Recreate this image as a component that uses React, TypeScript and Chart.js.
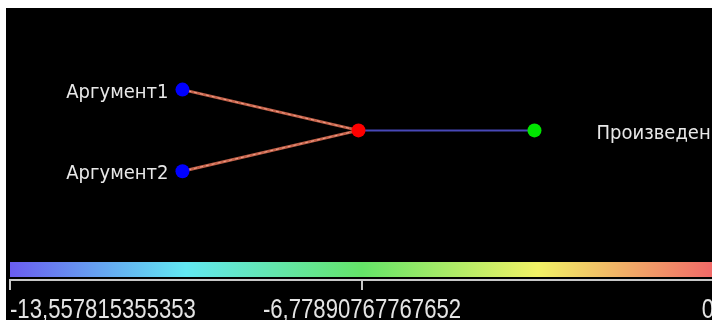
import React, { useEffect, useRef } from 'react';
import { Chart, registerables } from 'chart.js';

Chart.register(...registerables);

// ---- data ----
const nodeNames = ['Аргумент1', 'Аргумент2', '', 'Произведение'];
const nodeX = [24.5, 24.5, 49.5, 74.5];
const nodeY = [70, 40, 55, 55];
const nodeColors = ['#0000ff', '#0000ff', '#ff0000', '#00e600'];
const edgesFrom = [0, 1, 2];
const edgesTo = [2, 2, 3];
const edgeColors = ['#c4624a', '#c4624a', '#4848b8'];
const scaleMin = -13.557815355353;
const scaleMax = 0;
const tickValues = [-13.557815355353, -6.77890767767652, 0];
const colorStops = ['#6a5cf0', '#62e8f2', '#64e468', '#f2f266', '#f26868'];

const FONT = '"Liberation Sans Narrow", "DejaVu Sans Condensed", "Liberation Sans", sans-serif';
const TICK_FONT = '"Liberation Sans", Arial, sans-serif';

const colorbarPlugin = {
  id: 'colorbar',
  beforeDatasetsDraw(chart: any) {
    const { ctx, chartArea } = chart;
    const xs = chart.scales.x;
    const left = xs.getPixelForValue(scaleMin);
    const right = xs.getPixelForValue(scaleMax);
    const top = chartArea.bottom - 18;
    const g = ctx.createLinearGradient(left, 0, right, 0);
    colorStops.forEach((c, i) => g.addColorStop(i / (colorStops.length - 1), c));
    ctx.save();
    ctx.fillStyle = g;
    ctx.fillRect(left, top, right - left, 15);
    ctx.restore();
  },
};

const tickLabelPlugin = {
  id: 'tickLabels',
  afterDraw(chart: any) {
    const { ctx, chartArea } = chart;
    const xs = chart.scales.x;
    const sx = 0.82;
    ctx.save();
    ctx.font = `27px ${TICK_FONT}`;
    ctx.fillStyle = '#e4e4e4';
    ctx.textBaseline = 'alphabetic';
    const baseY = chartArea.bottom + 38;
    tickValues.forEach((v, i) => {
      const text = String(v).replace('.', ',');
      const px = xs.getPixelForValue(v);
      const w = ctx.measureText(text).width * sx;
      let x0 = px - w / 2;
      if (i === 0) x0 = px;
      if (i === tickValues.length - 1) x0 = px - w;
      ctx.save();
      ctx.translate(x0, baseY);
      ctx.scale(sx, 1);
      ctx.textAlign = 'left';
      ctx.fillText(text, 0, 0);
      ctx.restore();
    });
    ctx.restore();
  },
};

const labelPlugin = {
  id: 'nodeLabels',
  afterDatasetsDraw(chart: any) {
    const { ctx } = chart;
    const xs = chart.scales.xg;
    const ys = chart.scales.yg;
    ctx.save();
    ctx.font = `20px ${FONT}`;
    ctx.fillStyle = '#e8e8e8';
    ctx.textBaseline = 'middle';
    nodeNames.forEach((name, i) => {
      if (!name) return;
      const px = xs.getPixelForValue(nodeX[i]);
      const py = ys.getPixelForValue(nodeY[i]);
      const isSource = edgesFrom.includes(i);
      if (isSource) {
        ctx.textAlign = 'right';
        ctx.fillText(name, px - 14, py + 3);
      } else {
        ctx.textAlign = 'left';
        ctx.fillText(name, px + 62, py + 3);
      }
    });
    ctx.restore();
  },
};

export default function App() {
  const ref = useRef<HTMLCanvasElement>(null);

  useEffect(() => {
    const canvas = ref.current!;
    const edgeSets: any[] = [];
    edgesFrom.forEach((f, i) => {
      const t = edgesTo[i];
      const pts = [
        { x: nodeX[f], y: nodeY[f] },
        { x: nodeX[t], y: nodeY[t] },
      ];
      const isOut = edgeColors[i] === '#4848b8';
      edgeSets.push({
        type: 'line',
        data: pts,
        xAxisID: 'xg',
        yAxisID: 'yg',
        borderColor: edgeColors[i],
        borderWidth: isOut ? 2 : 3,
        pointRadius: 0,
        showLine: true,
        order: 2,
      });
      if (!isOut) {
        edgeSets.push({
          type: 'line',
          data: pts,
          xAxisID: 'xg',
          yAxisID: 'yg',
          borderColor: '#eea08a',
          borderWidth: 1,
          borderDash: [3, 3],
          pointRadius: 0,
          showLine: true,
          order: 1,
        });
      }
    });

    const chart = new Chart(canvas, {
      type: 'scatter',
      data: {
        datasets: [
          {
            data: nodeX.map((x, i) => ({ x, y: nodeY[i] })),
            xAxisID: 'xg',
            yAxisID: 'yg',
            pointRadius: 7,
            pointBackgroundColor: nodeColors,
            pointBorderColor: nodeColors,
            pointBorderWidth: 0,
            showLine: false,
            order: 0,
          } as any,
          ...edgeSets,
        ],
      },
      options: {
        responsive: false,
        animation: false,
        devicePixelRatio: 1,
        layout: { autoPadding: false, padding: { left: 4, right: 22, top: 0, bottom: 30 } },
        plugins: {
          legend: { display: false },
          tooltip: { enabled: false },
        },
        events: [],
        scales: {
          x: {
            type: 'linear',
            position: 'bottom',
            min: scaleMin,
            max: scaleMax,
            afterBuildTicks: (s: any) => {
              s.ticks = tickValues.map((v) => ({ value: v }));
            },
            ticks: { display: false, autoSkip: false, maxRotation: 0 },
            grid: {
              display: true,
              drawOnChartArea: false,
              drawTicks: true,
              tickLength: 10,
              color: '#c8c8c8',
              lineWidth: 2,
            },
            border: { display: true, color: '#c8c8c8', width: 2 },
          },
          y: { display: false, min: 0, max: 100 },
          xg: { type: 'linear', axis: 'x', display: false, min: 0, max: 100 },
          yg: { type: 'linear', axis: 'y', display: false, min: 0, max: 100 },
        } as any,
      },
      plugins: [colorbarPlugin, labelPlugin, tickLabelPlugin],
    } as any);
    return () => chart.destroy();
  }, []);

  return (
    <div
      style={{
        position: 'absolute',
        left: 6,
        top: 8,
        width: 706,
        height: 312,
        overflow: 'hidden',
        background: '#000',
      }}
    >
      <canvas ref={ref} width={730} height={312} style={{ display: 'block', width: 730, height: 312 }} />
    </div>
  );
}
